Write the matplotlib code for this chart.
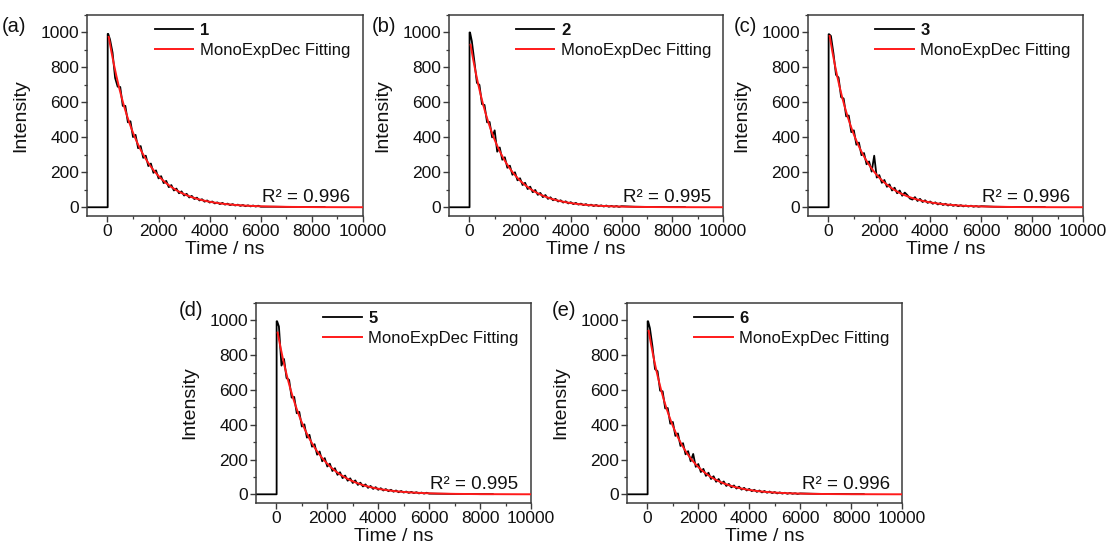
import numpy as np
import matplotlib
matplotlib.use("Agg")
import matplotlib.pyplot as plt
from matplotlib.ticker import MultipleLocator

plt.rcParams["font.family"] = ["Liberation Sans", "DejaVu Sans"]

# ---- data -------------------------------------------------------------
panel_tags = ["(a)", "(b)", "(c)", "(d)", "(e)"]
compounds = ["1", "2", "3", "5", "6"]
r_squared = ["0.996", "0.995", "0.996", "0.995", "0.996"]

# excitation onset, peak time and peak counts of each decay trace
t_rise = 10
t_peak = 30
peak_counts = [992, 1000, 990, 995, 995]

# sampled decay times (ns) for the measured traces
t_decay = np.arange(100, 6001, 100)

counts_1 = [960, 885, 740, 690, 688, 580, 580, 486, 492, 402, 414, 338, 350, 283,
            295, 236, 250, 197, 211, 165, 178, 138, 151, 115, 127, 96, 107, 80,
            91, 67, 77, 56, 65, 47, 55, 39, 46, 32, 39, 27, 33, 22, 28, 18, 25,
            15, 21, 12, 18, 10, 15, 8, 13, 6, 11, 5, 10, 4, 9, 3]
counts_2 = [950, 835, 712, 700, 590, 585, 486, 488, 400, 440, 318, 342, 272, 286,
            226, 238, 186, 200, 154, 166, 127, 140, 104, 118, 86, 99, 71, 82, 58,
            70, 48, 57, 40, 48, 33, 40, 27, 34, 22, 29, 18, 25, 15, 21, 12, 18,
            9, 15, 7, 13, 6, 11, 4, 10, 3, 8, 3, 7, 2, 6]
counts_3 = [980, 880, 758, 742, 630, 622, 520, 525, 430, 440, 358, 370, 298, 310,
            246, 262, 204, 295, 170, 184, 140, 156, 117, 131, 96, 112, 80, 96, 66,
            84, 70, 50, 44, 58, 36, 48, 30, 40, 25, 33, 20, 28, 16, 24, 13, 20,
            10, 17, 8, 14, 6, 12, 5, 10, 4, 9, 3, 7, 3, 6]
counts_5 = [965, 740, 778, 668, 658, 556, 560, 466, 474, 390, 402, 326, 342, 274,
            288, 228, 246, 190, 208, 160, 176, 134, 150, 112, 127, 93, 108, 78,
            92, 65, 80, 54, 67, 45, 57, 37, 48, 31, 41, 26, 35, 22, 30, 18, 26,
            15, 22, 12, 19, 10, 16, 8, 14, 7, 12, 5, 10, 4, 9, 4]
counts_6 = [955, 850, 720, 708, 596, 592, 494, 496, 406, 416, 336, 350, 278, 294,
            230, 248, 190, 232, 158, 174, 128, 146, 106, 124, 88, 104, 72, 88, 60,
            74, 48, 60, 40, 51, 33, 44, 27, 37, 22, 31, 18, 26, 14, 22, 11, 19,
            9, 16, 7, 13, 5, 11, 4, 9, 3, 8, 3, 6, 2, 5]
counts = [counts_1, counts_2, counts_3, counts_5, counts_6]

# long-time tail of the traces
t_tail = [6500, 7000, 7500, 8000, 8500]
counts_tail = [3, 2, 2, 1, 1]

# mono-exponential fit parameters: amplitude at fit start and lifetime (ns)
fit_start = 50
fit_amplitude = [975, 930, 980, 930, 940]
fit_lifetime = [1150, 1080, 1110, 1170, 1090]

# ---- layout -----------------------------------------------------------
W, H = 1113, 547
# axes boxes in pixels: left, top, right, bottom
boxes = [(87, 15, 363, 216), (449, 15, 723, 216), (808, 15, 1083, 216),
         (256, 303, 531, 503), (627, 303, 902, 503)]
tag_xy = [(2, 26), (372, 26), (734, 26), (179, 311), (552, 311)]

fig = plt.figure(figsize=(W / 100, H / 100), dpi=100)
spine_col = "#3a3a3a"
text_col = "#111111"

for i in range(5):
    l, t, r, b = boxes[i]
    ax = fig.add_axes([l / W, 1 - b / H, (r - l) / W, (b - t) / H])

    tx = np.concatenate([[-800, t_rise, t_rise, t_peak], t_decay, t_tail])
    ty = np.concatenate([[0, 0, peak_counts[i], peak_counts[i]], counts[i], counts_tail])
    ax.plot(tx, ty, color="black", lw=1.3, label=compounds[i], zorder=2)

    tf = np.linspace(fit_start, 10000, 800)
    fit = fit_amplitude[i] * np.exp(-(tf - fit_start) / fit_lifetime[i])
    ax.plot(tf, fit, color="#ff1a1a", lw=1.4, label="MonoExpDec Fitting", zorder=3)

    ax.set_xlim(-800, 10000)
    ax.set_ylim(-50, 1100)
    ax.xaxis.set_major_locator(MultipleLocator(2000))
    ax.xaxis.set_minor_locator(MultipleLocator(1000))
    ax.yaxis.set_major_locator(MultipleLocator(200))
    ax.yaxis.set_minor_locator(MultipleLocator(100))
    ax.tick_params(which="both", direction="out", colors=spine_col,
                   labelcolor=text_col, labelsize=12.5)
    ax.tick_params(which="major", length=4, width=1.0, pad=1.5)
    ax.tick_params(which="minor", length=2.5, width=0.9)
    for sp in ax.spines.values():
        sp.set_color(spine_col)
        sp.set_linewidth(1.1)

    ax.set_xlabel("Time / ns", fontsize=14, labelpad=2, color=text_col)
    ax.set_ylabel("Intensity", fontsize=14, labelpad=8, color=text_col)

    leg = ax.legend(loc="upper left", bbox_to_anchor=(0.245, 0.96), frameon=False,
                    fontsize=12, handlelength=2.3, handletextpad=0.4,
                    labelspacing=0.3, borderpad=0, borderaxespad=0)
    leg.get_texts()[0].set_fontweight("bold")
    for txt in leg.get_texts():
        txt.set_color(text_col)

    ax.text(0.955, 0.05, "R\u00b2 = " + r_squared[i], transform=ax.transAxes,
            ha="right", va="bottom", fontsize=13.5, color=text_col)

    fig.text(tag_xy[i][0] / W, 1 - tag_xy[i][1] / H, panel_tags[i],
             ha="left", va="center", fontsize=14.5, color=text_col)

fig.savefig("out.png", dpi=100)
